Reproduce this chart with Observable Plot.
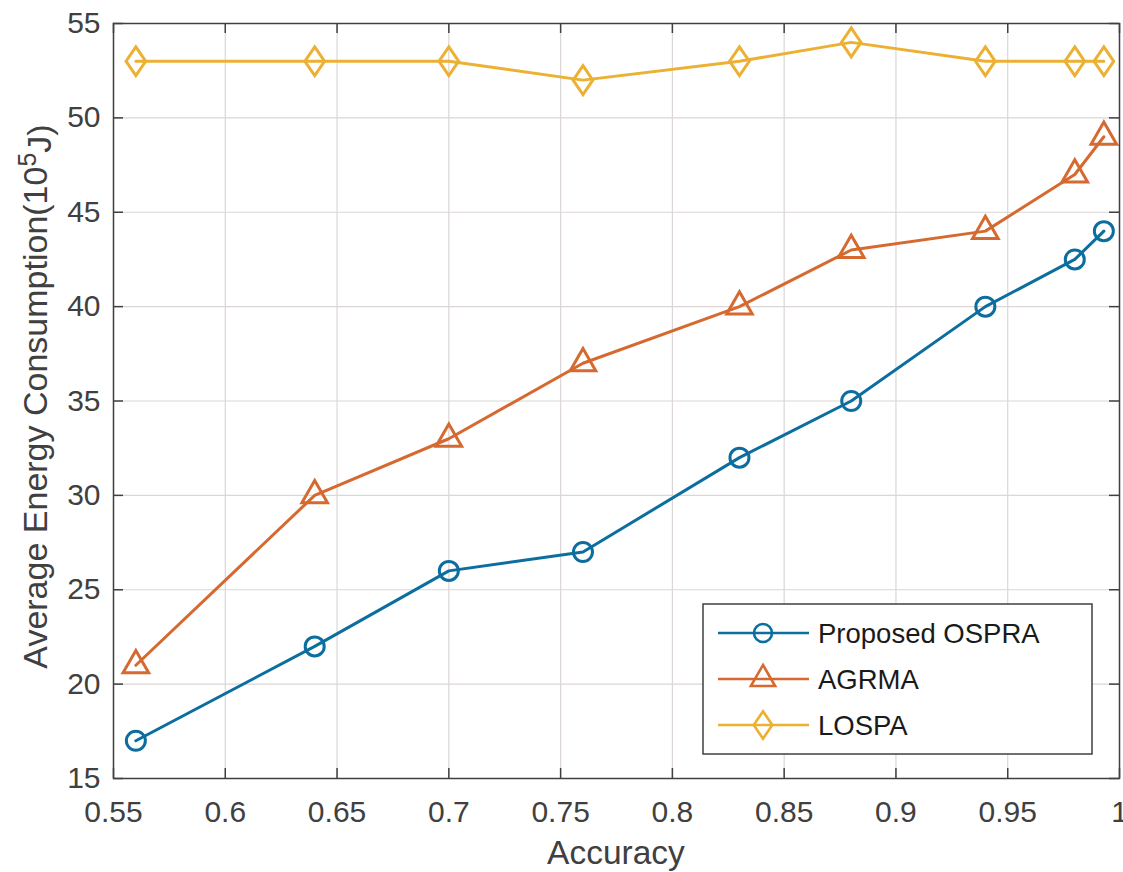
<!DOCTYPE html>
<html>
<head>
<meta charset="utf-8">
<script src="https://cdn.jsdelivr.net/npm/d3@7"></script>
<script src="https://cdn.jsdelivr.net/npm/@observablehq/plot@0.6"></script>
<style>
  html, body { margin: 0; padding: 0; background: #fff; }
  #chart { width: 1123px; height: 872px; }
  svg { font-family: "Liberation Sans", Arial, Helvetica, sans-serif; }
</style>
</head>
<body>
<div id="chart"></div>
<script>
// ---- data ----
const accuracy = [0.56, 0.64, 0.70, 0.76, 0.83, 0.88, 0.94, 0.98, 0.993];
const ospra = [17, 22, 26, 27, 32, 35, 40, 42.5, 44];
const agrma = [21, 30, 33, 37, 40, 43, 44, 47, 49];
const lospa = [53, 53, 53, 52, 53, 54, 53, 53, 53];
const seriesNames = ["Proposed OSPRA", "AGRMA", "LOSPA"];
const seriesValues = [ospra, agrma, lospa];
const xTicks = [0.55, 0.6, 0.65, 0.7, 0.75, 0.8, 0.85, 0.9, 0.95, 1];
const yTicks = [15, 20, 25, 30, 35, 40, 45, 50, 55];
const xLabel = "Accuracy";
const yLabelMain = "Average Energy Consumption(10";
const yLabelSup = "5";
const yLabelEnd = "J)";

// ---- style ----
const colors = ["#0b6e9f", "#d6692f", "#ecb032"];
const diamondSymbol = {
  draw(context, size) {
    const h = Math.sqrt(size / 1.36), w = 0.68 * h;
    context.moveTo(0, -h); context.lineTo(w, 0); context.lineTo(0, h); context.lineTo(-w, 0); context.closePath();
  }
};
const symbols = [d3.symbolCircle, d3.symbolTriangle, diamondSymbol];
const axisColor = "#404040";
const gridColor = "#dcd6d6";

const rows = [];
seriesNames.forEach((s, i) => accuracy.forEach((x, j) => rows.push({series: s, x, y: seriesValues[i][j]})));

const W = 1123, H = 872;
const mL = 113, mT = 23, mR = 4, mB = 94;
const pw = W - mL - mR, ph = H - mT - mB;
const tick = 10;
const lw = 3;

const chart = Plot.plot({
  width: W, height: H,
  marginLeft: mL, marginTop: mT, marginRight: mR, marginBottom: mB,
  style: {fontFamily: '"Liberation Sans", Arial, Helvetica, sans-serif', background: "#fff", color: axisColor},
  x: {domain: [0.55, 1], ticks: xTicks, tickFormat: d => String(d)},
  y: {domain: [15, 55], ticks: yTicks, tickFormat: d => String(d)},
  color: {domain: seriesNames, range: colors},
  symbol: {domain: seriesNames, range: symbols},
  marks: [
    Plot.gridX(xTicks, {stroke: gridColor, strokeOpacity: 1, strokeWidth: 1.2}),
    Plot.gridY(yTicks, {stroke: gridColor, strokeOpacity: 1, strokeWidth: 1.2}),
    Plot.axisX(xTicks, {tickSize: 0, tickPadding: 22, fontSize: 30, fill: axisColor, label: null, tickFormat: d => String(d)}),
    Plot.axisY(yTicks, {tickSize: 0, tickPadding: 13, fontSize: 30, fill: axisColor, label: null, tickFormat: d => String(d)}),
    Plot.tickX(xTicks, {x: d => d, insetTop: ph - tick, stroke: axisColor, strokeWidth: 1.5}),
    Plot.tickX(xTicks, {x: d => d, insetBottom: ph - tick, stroke: axisColor, strokeWidth: 1.5}),
    Plot.tickY(yTicks, {y: d => d, insetRight: pw - tick, stroke: axisColor, strokeWidth: 1.5}),
    Plot.tickY(yTicks, {y: d => d, insetLeft: pw - tick, stroke: axisColor, strokeWidth: 1.5}),
    Plot.line(rows, {x: "x", y: "y", z: "series", stroke: "series", strokeWidth: lw}),
    Plot.dot(rows, {x: "x", y: "y", stroke: "series", symbol: "series", r: 9.5, fill: "none", strokeWidth: lw}),
    Plot.frame({stroke: axisColor, strokeWidth: 1.5})
  ]
});
document.getElementById("chart").appendChild(chart);

// ---- axis labels ----
const svg = d3.select(chart);
svg.append("text")
  .attr("x", mL + pw / 2).attr("y", 864)
  .attr("text-anchor", "middle")
  .attr("font-size", 33.5).attr("fill", axisColor)
  .text(xLabel);

const yl = svg.append("text")
  .attr("transform", `translate(47,${mT + ph / 2 - 4}) rotate(-90)`)
  .attr("text-anchor", "middle")
  .attr("font-size", 34).attr("fill", axisColor);
yl.append("tspan").text(yLabelMain);
yl.append("tspan").attr("dy", "-0.45em").attr("font-size", 25).text(yLabelSup);
yl.append("tspan").attr("dy", "0.45em").attr("font-size", 34).text(yLabelEnd);

// ---- legend ----
const lg = svg.append("g").attr("transform", "translate(703,604)");
lg.append("rect").attr("width", 389).attr("height", 150)
  .attr("fill", "#fff").attr("stroke", axisColor).attr("stroke-width", 1.5);
seriesNames.forEach((name, i) => {
  const cy = 29 + i * 46;
  const g = lg.append("g").attr("transform", `translate(0,${cy})`);
  g.append("line").attr("x1", 15).attr("x2", 106).attr("y1", 0).attr("y2", 0)
    .attr("stroke", colors[i]).attr("stroke-width", 2.6);
  g.append("path").attr("transform", "translate(60,0)")
    .attr("d", d3.symbol(symbols[i], Math.PI * 81)())
    .attr("fill", "none").attr("stroke", colors[i]).attr("stroke-width", 2.6);
  g.append("text").attr("x", 115).attr("y", 0).attr("dy", "0.36em")
    .attr("text-anchor", "start")
    .attr("font-size", 27.5).attr("fill", "#1a1a1a").text(name);
});
</script>
</body>
</html>
